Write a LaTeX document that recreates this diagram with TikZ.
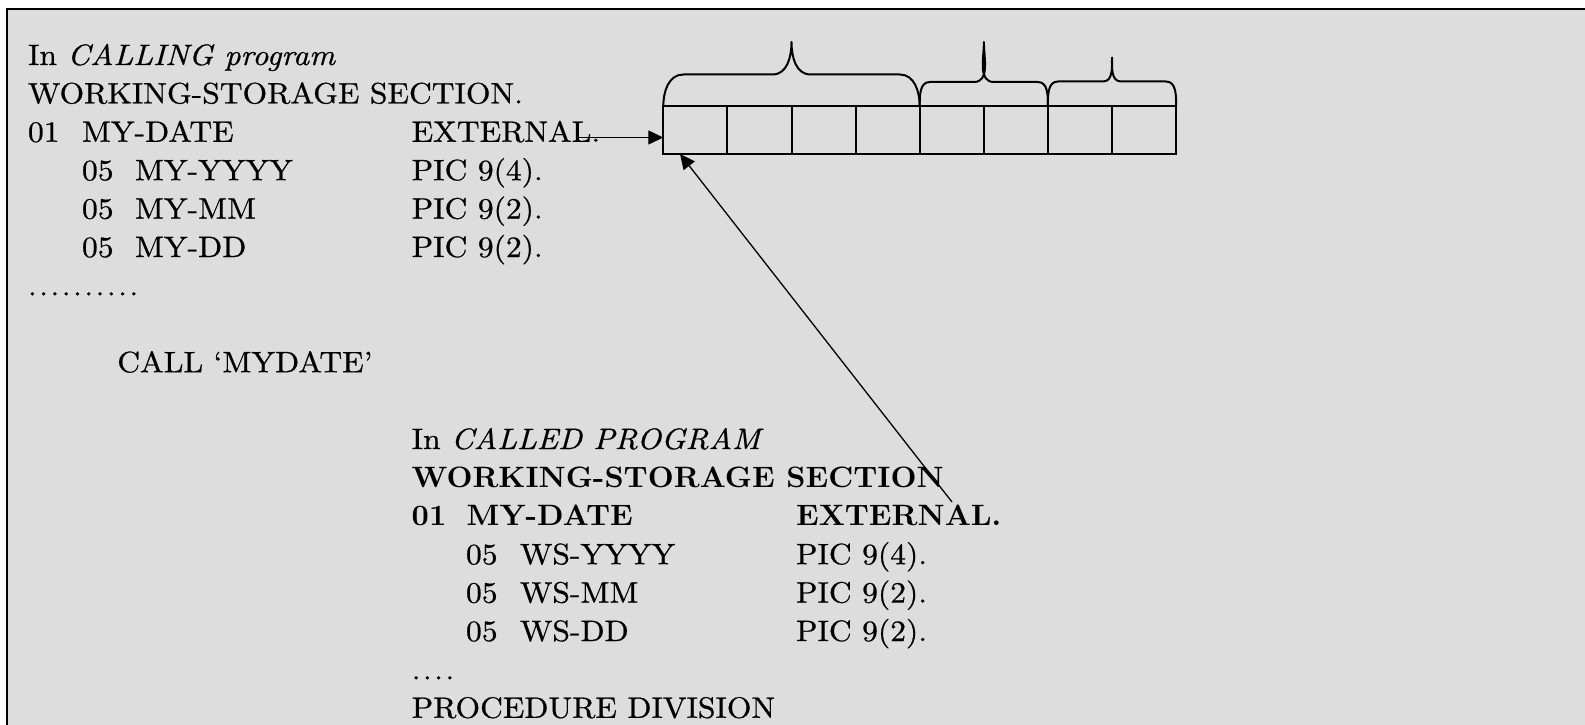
\documentclass[tikz,border=0pt]{standalone}
\usepackage{fontspec}
\setmainfont{lmroman10-regular.otf}[ItalicFont=lmroman10-italic.otf, BoldFont=lmroman10-bold.otf, FakeStretch=1.07, FakeBold=0.7]
\newfontfamily\bfnt{lmroman10-bold.otf}[FakeStretch=1.02]
\usetikzlibrary{arrows.meta}
\definecolor{bg}{RGB}{221,221,221}
\newcommand\mydot{.\kern2.5pt}
\begin{document}
\begin{tikzpicture}[x=1pt,y=-1pt,
  txt/.style={anchor=base west,inner sep=0pt,outer sep=0pt,font=\fontsize{29.5}{35}\selectfont},
  btxt/.style={txt,font=\fontsize{29.5}{35}\bfnt},
  cell/.style={draw,line width=2pt,minimum width=64.1pt,minimum height=48pt,inner sep=0pt,outer sep=0pt},
  brace/.style={line width=2pt,line join=round},
  arr/.style={line width=1.3pt,-{Triangle[length=15pt,width=14pt]}}]
\useasboundingbox (0,0) rectangle (1585,725);
\fill[white] (0,0) rectangle (1585,725);
\draw[line width=2pt,fill=bg] (7.3,9.3) rectangle (1620,760);

% memory cells
\foreach \i in {1,...,8} \node[cell] (c\i) at ({663.3+(\i-0.5)*64.1},130) {};

% braces
\draw[brace] (c1.north west) to[out=90,in=180] (683.3,74.5) -- (772.5,74.5)
  to[out=0,in=-90] (791.5,42) to[out=-90,in=180] (810.5,74.5) -- (899.8,74.5)
  to[out=0,in=90] (c4.north east);
\draw[brace] (c5.north west) to[out=90,in=180] (929.8,82) -- (973.9,82)
  to[out=0,in=-90] (983.9,42) to[out=-90,in=180] (993.9,82) -- (1037.9,82)
  to[out=0,in=90] (c6.north east);
\draw[brace] (c7.north west) to[out=90,in=180] (1057.9,81.5) -- (1103,81.5)
  to[out=0,in=-90] (1112,57.5) to[out=-90,in=180] (1121,81.5) -- (1166,81.5)
  to[out=0,in=90] (c8.north east);

% calling program
\node[txt] (a0) at (28,65) {In \textit{CALLING program}};
\node[txt] (a1) at (28,103.4) {WORKING-STORAGE SECTION.};
\node[txt] (a2a) at (28,141.8) {01};
\node[txt] (a2b) at (82,141.8) {MY-DATE};
\node[txt] (ext1) at (411.7,141.8) {EXTERNAL.};
\node[txt] (a3a) at (82,180.2) {05};
\node[txt] (a3b) at (135,180.2) {MY-YYYY};
\node[txt] (a3c) at (411.7,180.2) {PIC 9(4).};
\node[txt] (a4a) at (82,218.6) {05};
\node[txt] (a4b) at (135,218.6) {MY-MM};
\node[txt] (a4c) at (411.7,218.6) {PIC 9(2).};
\node[txt] (a5a) at (82,257) {05};
\node[txt] (a5b) at (135,257) {MY-DD};
\node[txt] (a5c) at (411.7,257) {PIC 9(2).};
\node[txt] (a6) at (28,295.4) {\mydot\mydot\mydot\mydot\mydot\mydot\mydot\mydot\mydot.};
\node[txt] (call) at (117.3,372.2) {CALL ‘MYDATE’};

% called program
\node[txt] (b0) at (411.7,449) {In \textit{CALLED PROGRAM}};
\node[btxt] (b1) at (411.7,487.4) {WORKING-STORAGE SECTION};
\node[btxt] (b2a) at (411.7,525.8) {01};
\node[btxt] (b2b) at (466.7,525.8) {MY-DATE};
\node[btxt] (ext2) at (796,525.8) {EXTERNAL.};
\node[txt] (b3a) at (466,564.2) {05};
\node[txt] (b3b) at (520,564.2) {WS-YYYY};
\node[txt] (b3c) at (796,564.2) {PIC 9(4).};
\node[txt] (b4a) at (466,602.6) {05};
\node[txt] (b4b) at (520,602.6) {WS-MM};
\node[txt] (b4c) at (796,602.6) {PIC 9(2).};
\node[txt] (b5a) at (466,641) {05};
\node[txt] (b5b) at (520,641) {WS-DD};
\node[txt] (b5c) at (796,641) {PIC 9(2).};
\node[txt] (b6) at (411.7,679.4) {\mydot\mydot\mydot.};
\node[txt] (b7) at (411.7,717.8) {PROCEDURE DIVISION};

% arrows
\coordinate (h0) at (578,137.5);
\draw[arr] (h0) -- (h0 -| c1.west);
\coordinate (d0) at (952,502);
\draw[arr] (d0) -- ([xshift=16.7pt]c1.south west);
\end{tikzpicture}
\end{document}
